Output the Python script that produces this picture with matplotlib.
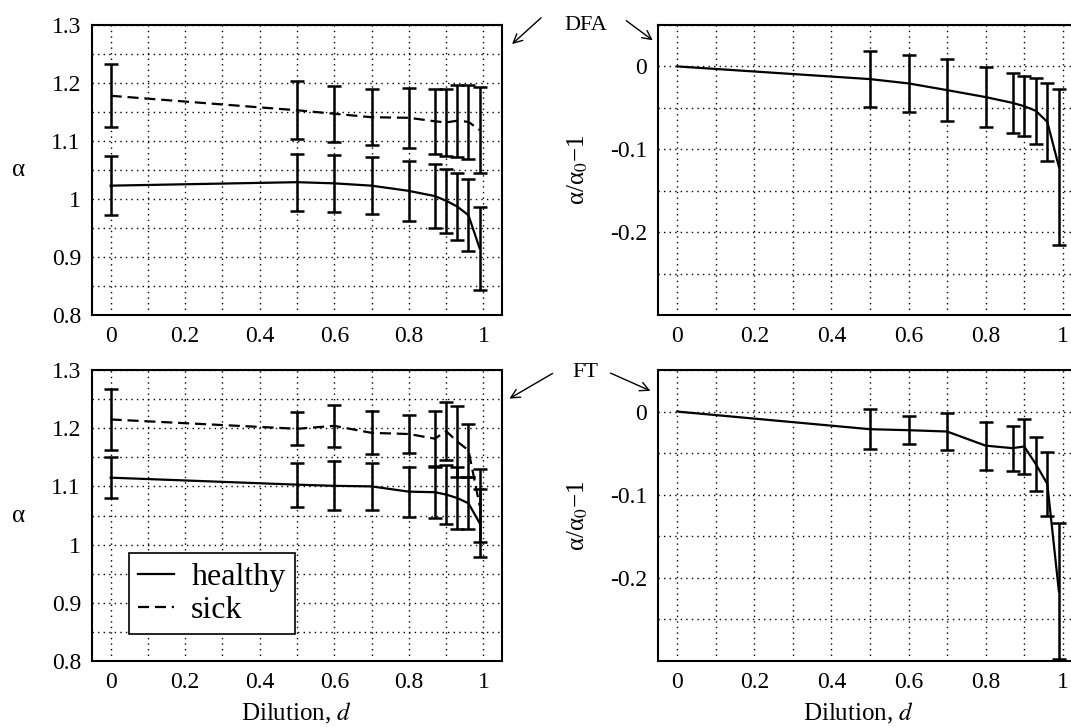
import numpy as np
import matplotlib
matplotlib.use("Agg")
from matplotlib import pyplot as plt

plt.rcParams['font.family'] = ['Liberation Serif', 'DejaVu Serif']
plt.rcParams['mathtext.fontset'] = 'stix'

# dilution values
d = [0, 0.5, 0.6, 0.7, 0.8, 0.87, 0.9, 0.93, 0.96, 0.99]

# DFA, alpha
dfa_healthy = [1.023, 1.029, 1.027, 1.023, 1.014, 1.005, 0.997, 0.987, 0.972, 0.915]
dfa_healthy_err = [0.051, 0.049, 0.049, 0.049, 0.052, 0.055, 0.055, 0.058, 0.062, 0.072]
dfa_sick = [1.178, 1.153, 1.147, 1.141, 1.140, 1.134, 1.132, 1.135, 1.133, 1.119]
dfa_sick_err = [0.054, 0.050, 0.048, 0.048, 0.052, 0.056, 0.057, 0.062, 0.064, 0.074]

# DFA, relative change
dfa_rel = [0, -0.0153, -0.0205, -0.0286, -0.037, -0.044, -0.048, -0.0535, -0.067, -0.121]
dfa_rel_err = [0, 0.034, 0.034, 0.037, 0.036, 0.036, 0.036, 0.040, 0.0475, 0.094]

# FT, alpha
ft_healthy = [1.115, 1.103, 1.101, 1.100, 1.091, 1.090, 1.086, 1.080, 1.071, 1.037]
ft_healthy_err = [0.035, 0.038, 0.042, 0.040, 0.043, 0.045, 0.051, 0.054, 0.045, 0.058]
ft_sick = [1.215, 1.199, 1.204, 1.192, 1.190, 1.182, 1.195, 1.177, 1.162, 1.067]
ft_sick_err = [0.053, 0.028, 0.036, 0.037, 0.032, 0.048, 0.050, 0.061, 0.045, 0.063]

# FT, relative change
ft_rel = [0, -0.0212, -0.0224, -0.024, -0.041, -0.044, -0.042, -0.063, -0.087, -0.216]
ft_rel_err = [0, 0.0244, 0.0166, 0.022, 0.029, 0.027, 0.0336, 0.033, 0.038, 0.082]

W, H = 1071, 727
fig = plt.figure(figsize=(W / 100, H / 100), dpi=100)


def box(left, top, right, bottom):
    return [left / W, 1 - bottom / H, (right - left) / W, (bottom - top) / H]


def setup(ax, ylim, yticks, ylabels):
    ax.set_xlim(-0.05, 1.05)
    ax.set_ylim(*ylim)
    ax.set_xticks(np.arange(0, 1.01, 0.2))
    ax.set_xticklabels(['0', '0.2', '0.4', '0.6', '0.8', '1'])
    ax.set_xticks(np.arange(0, 1.01, 0.1), minor=True)
    ax.set_yticks(yticks)
    ax.set_yticklabels(ylabels)
    step = 0.05
    ax.set_yticks(np.arange(ylim[0], ylim[1] + 1e-9, step), minor=True)
    ax.grid(True, which='both', color='k', linestyle=(0, (1, 3)), linewidth=1.0)
    ax.tick_params(which='both', length=0, labelsize=17, pad=8)
    for s in ax.spines.values():
        s.set_linewidth(1.5)
    ax.set_axisbelow(True)


def draw(ax, y, err, ls, skip_first=False, label=None):
    ax.plot(d, y, color='k', linestyle=ls, linewidth=1.6, label=label)
    i0 = 1 if skip_first else 0
    ax.errorbar(d[i0:], y[i0:], yerr=err[i0:], fmt='none', ecolor='k',
                elinewidth=1.8, capsize=5, capthick=1.8)


def ylab(ax, text, x, rotation):
    ax.set_ylabel(text, rotation=rotation, fontsize=18, va='center', ha='center')
    ax.yaxis.set_label_coords(x, 0.5)


def xlab(ax, x):
    ax.set_xlabel('Dilution, $d$', fontsize=18, va='center')
    ax.xaxis.set_label_coords(x, -0.181)


dashed = (0, (5, 2.6))
ticks_a = [0.8, 0.9, 1.0, 1.1, 1.2, 1.3]
labels_a = ['0.8', '0.9', '1', '1.1', '1.2', '1.3']
ticks_r = [-0.2, -0.1, 0]
labels_r = ['-0.2', '-0.1', '0']

ax1 = fig.add_axes(box(92, 25, 502, 315))
setup(ax1, (0.8, 1.3), ticks_a, labels_a)
draw(ax1, dfa_healthy, dfa_healthy_err, '-')
draw(ax1, dfa_sick, dfa_sick_err, dashed)
ylab(ax1, 'α', -0.178, 0)

ax2 = fig.add_axes(box(658, 25, 1082, 315))
setup(ax2, (-0.3, 0.05), ticks_r, labels_r)
draw(ax2, dfa_rel, dfa_rel_err, '-', skip_first=True)
ylab(ax2, 'α/α$_0$\u22121', -0.189, 90)

ax3 = fig.add_axes(box(92, 370, 502, 661))
setup(ax3, (0.8, 1.3), ticks_a, labels_a)
draw(ax3, ft_healthy, ft_healthy_err, '-', label='healthy')
draw(ax3, ft_sick, ft_sick_err, dashed, label='sick')
ylab(ax3, 'α', -0.178, 0)
xlab(ax3, 0.5)
leg = ax3.legend(loc='upper left', bbox_to_anchor=(0.09, 0.372), fontsize=23,
                 frameon=True, fancybox=False, edgecolor='k', framealpha=1,
                 handlelength=1.1, handletextpad=0.55, borderpad=0.3,
                 labelspacing=0.12, borderaxespad=0)
leg.get_frame().set_linewidth(1.2)

ax4 = fig.add_axes(box(658, 370, 1082, 661))
setup(ax4, (-0.3, 0.05), ticks_r, labels_r)
draw(ax4, ft_rel, ft_rel_err, '-', skip_first=True)
ylab(ax4, 'α/α$_0$\u22121', -0.189, 90)
xlab(ax4, 0.472)


def fp(x, y):
    return (x / W, 1 - y / H)


arrow = dict(arrowstyle='->', color='k', linewidth=1.0, mutation_scale=16)
fig.text(*fp(586, 25), 'DFA', fontsize=16, ha='center', va='center')
fig.text(*fp(585, 373), 'FT', fontsize=16, ha='center', va='center')
for head, tail in [((510, 46), (543, 16)), ((655, 42), (624, 19)),
                   ((507, 400), (555, 372)), ((653, 392), (608, 372))]:
    ax1.annotate('', xy=fp(*head), xytext=fp(*tail), xycoords='figure fraction',
                 textcoords='figure fraction', arrowprops=arrow,
                 annotation_clip=False)

fig.savefig('out.png', dpi=100)
